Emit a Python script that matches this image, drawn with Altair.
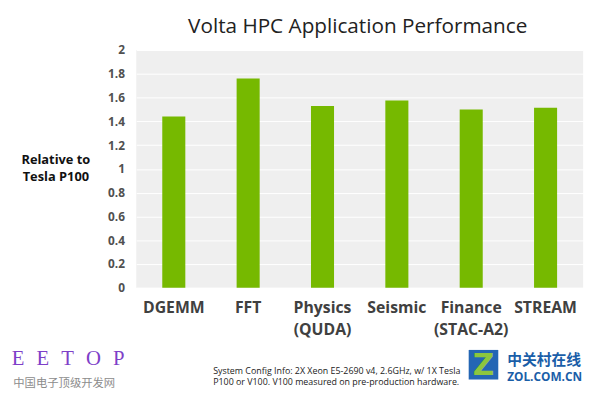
import altair as alt
import pandas as pd

categories = ["DGEMM", "FFT", "Physics\n(QUDA)", "Seismic", "Finance\n(STAC-A2)", "STREAM"]
values = [1.44, 1.76, 1.53, 1.575, 1.50, 1.515]
y_ticks = [0, 0.2, 0.4, 0.6, 0.8, 1.0, 1.2, 1.4, 1.6, 1.8, 2.0]

title_text = "Volta HPC Application Performance"
y_title = ["Relative to", "Tesla P100"]
note_lines = ["System Config Info: 2X Xeon E5-2690 v4, 2.6GHz, w/ 1X Tesla",
              "P100 or V100. V100 measured on pre-production hardware."]

df = pd.DataFrame({"app": categories, "value": values})

FONT = "Open Sans"
W, H = 453, 241

bars = alt.Chart(df).mark_bar(color="#76b900").encode(
    x=alt.X("app:N", sort=categories,
            scale=alt.Scale(paddingInner=0.69, paddingOuter=0.35),
            axis=alt.Axis(title=None, labelAngle=0, labelExpr="split(datum.label, '\\n')",
                          labelFont=FONT, labelFontSize=16, labelFontWeight="bold",
                          labelColor="#404040", labelPadding=12, labelLineHeight=22,
                          ticks=False, domain=False, labelBaseline="top")),
    y=alt.Y("value:Q", scale=alt.Scale(domain=[0, 2], nice=False),
            axis=alt.Axis(values=y_ticks, format="~g", title=y_title, titleAngle=0,
                          titleX=-82, titleY=105, titleAlign="center", titleBaseline="top",
                          titleFont=FONT, titleFontSize=13, titleFontWeight="bold",
                          titleColor="#111", titleLineHeight=17,
                          labelFont=FONT, labelFontSize=12, labelFontWeight="bold",
                          labelColor="#505050", labelPadding=12, ticks=False, domain=False,
                          grid=True, gridColor="#ffffff", gridWidth=1))
)

one = alt.Data(values=[{}])

def txt(text, x, y, **kw):
    return alt.Chart(one).mark_text(text=text, **kw).encode(x=alt.value(x), y=alt.value(y))

GAP = "\u2002\u200a"
title = txt(title_text, W / 2 - 2, -23, font=FONT, fontSize=21, color="#222222", baseline="middle")
eetop = txt(GAP.join("EETOP"), -69, 313, font="Liberation Serif", fontSize=21,
            color="#7e3fc8", baseline="middle")
eecn = txt("中国电子顶级开发网", -73, 339, font="Noto Sans CJK SC", fontSize=11.5,
           color="#8c8c8c", baseline="middle")
note1 = txt(note_lines[0], 78, 325, font=FONT, fontSize=9, color="#222222",
            align="left", baseline="middle")
note2 = txt(note_lines[1], 78, 337, font=FONT, fontSize=9, color="#222222",
            align="left", baseline="middle")
logo = alt.Chart(one).mark_rect(color="#2466b4").encode(
    x=alt.value(337), x2=alt.value(367), y=alt.value(304), y2=alt.value(334))
logo_z = txt("Z", 352, 320, font="DejaVu Sans", fontSize=30, fontWeight="bold",
             color="#8cc63f", baseline="middle")
zol_cn = txt("中关村在线", 376, 314, font="Noto Sans CJK SC", fontSize=15, fontWeight="bold",
             color="#1a5ea8", align="left", baseline="middle")
zol_en = txt("ZOL.COM.CN", 376, 331, font=FONT, fontSize=12, fontWeight="bold",
             color="#1a5ea8", align="left", baseline="middle")

chart = alt.layer(bars, title, eetop, eecn, note1, note2, logo, logo_z, zol_cn, zol_en).properties(
    width=W, height=H,
    autosize=alt.AutoSizeParams(type="none"),
    padding={"left": 130, "top": 40, "right": 9, "bottom": 100},
    background="#ffffff",
).configure_view(fill="#efefef", stroke=None)

chart.save("out.html", embed_options={"renderer": "svg", "actions": False})
